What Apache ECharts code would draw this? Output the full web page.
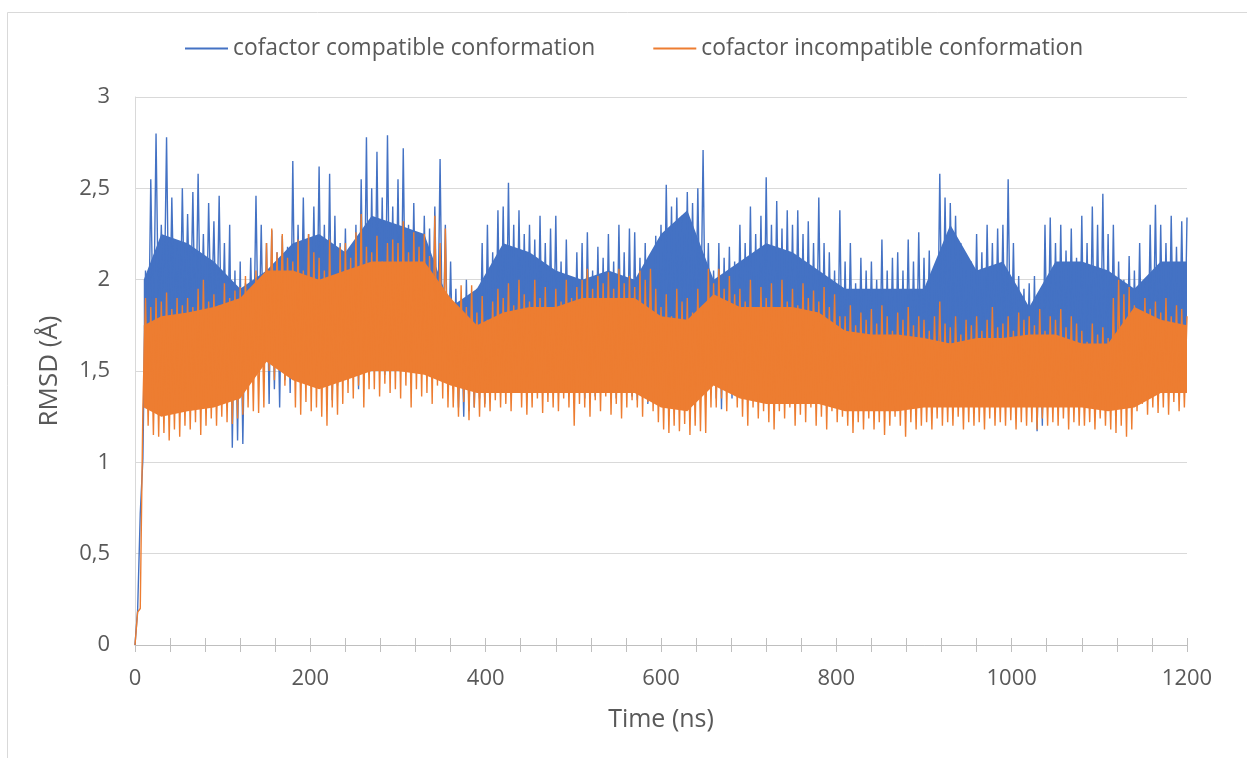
<!DOCTYPE html>
<html>
<head>
<meta charset="utf-8">
<script src="https://cdn.jsdelivr.net/npm/echarts@6/dist/echarts.min.js"></script>
<style>
html,body{margin:0;padding:0;background:#fff;}
#chart{width:1247px;height:758px;}
</style>
</head>
<body>
<div id="chart"></div>
<script>
// Sampling interval of the traces (ns)
const STEP_NS = 3;
const xTicks = [0, 200, 400, 600, 800, 1000, 1200];
const yTicks = [0, 0.5, 1, 1.5, 2, 2.5, 3];
const seriesNames = ['cofactor compatible conformation', 'cofactor incompatible conformation'];

// RMSD (Å), one value every 3 ns
const compatible = [
0, 0.19, 0.72, 1.02, 2.05, 1.45, 2.55, 1.62, 2.8, 1.7,
2.3, 1.75, 2.78, 1.6, 2.45, 1.72, 2.2, 1.58, 2.5, 1.66,
2.36, 1.7, 2.48, 1.6, 2.58, 1.65, 2.25, 1.56, 2.42, 1.72,
2.32, 1.6, 2.46, 1.55, 2.2, 1.4, 2.3, 1.08, 2.05, 1.12,
2.1, 1.1, 1.98, 1.45, 2.12, 1.5, 2.46, 1.55, 2.3, 1.48,
2.2, 1.32, 2.27, 1.4, 2.15, 1.3, 2.24, 1.45, 2.18, 1.38,
2.65, 1.5, 2.3, 1.55, 2.45, 1.6, 2.25, 1.52, 2.4, 1.58,
2.62, 1.5, 2.3, 1.45, 2.58, 1.34, 2.35, 1.42, 2.2, 1.48,
2.28, 1.45, 2.15, 1.5, 2.3, 1.4, 2.55, 1.52, 2.78, 1.48,
2.5, 1.5, 2.7, 1.55, 2.45, 1.48, 2.79, 1.6, 2.4, 1.52,
2.55, 1.5, 2.72, 1.55, 2.3, 1.48, 2.42, 1.58, 2.25, 1.5,
2.35, 1.52, 2.28, 1.48, 2.4, 1.55, 2.66, 1.5, 2.3, 1.47,
2.1, 1.4, 1.95, 1.3, 1.85, 1.25, 2.0, 1.28, 1.9, 1.3,
1.95, 1.35, 2.2, 1.32, 2.3, 1.4, 2.15, 1.45, 2.38, 1.42,
2.4, 1.45, 2.53, 1.5, 2.3, 1.42, 2.38, 1.48, 2.25, 1.5,
2.3, 1.45, 2.22, 1.4, 2.35, 1.48, 2.2, 1.42, 2.28, 1.45,
2.35, 1.4, 2.1, 1.38, 2.22, 1.45, 2.0, 1.35, 2.15, 1.4,
2.2, 1.35, 2.26, 1.42, 2.05, 1.36, 2.18, 1.4, 2.12, 1.38,
2.25, 1.4, 2.1, 1.35, 2.3, 1.42, 2.15, 1.38, 2.28, 1.36,
2.26, 1.34, 2.12, 1.4, 2.2, 1.32, 2.05, 1.38, 2.24, 1.35,
2.3, 1.45, 2.52, 1.55, 2.4, 1.5, 2.45, 1.58, 2.35, 1.52,
2.48, 1.58, 2.42, 1.55, 2.5, 1.6, 2.71, 1.52, 2.2, 1.45,
2.05, 1.35, 2.2, 1.29, 2.12, 1.4, 2.18, 1.35, 2.1, 1.38,
2.3, 1.4, 2.2, 1.45, 2.4, 1.38, 2.25, 1.42, 2.35, 1.4,
2.56, 1.42, 2.3, 1.4, 2.43, 1.45, 2.28, 1.38, 2.38, 1.42,
2.3, 1.4, 2.38, 1.45, 2.25, 1.38, 2.32, 1.42, 2.2, 1.4,
2.45, 1.38, 2.2, 1.35, 2.15, 1.4, 2.05, 1.32, 2.38, 1.36,
2.1, 1.35, 2.2, 1.38, 1.98, 1.33, 2.12, 1.36, 2.05, 1.35,
2.1, 1.38, 2.0, 1.35, 2.22, 1.32, 2.05, 1.36, 2.12, 1.34,
2.15, 1.35, 2.05, 1.38, 2.22, 1.33, 2.1, 1.36, 2.26, 1.38,
2.12, 1.4, 2.16, 1.38, 2.05, 1.42, 2.58, 1.5, 2.45, 1.55,
2.42, 1.6, 2.35, 1.55, 2.2, 1.5, 2.05, 1.45, 2.1, 1.42,
2.25, 1.45, 2.15, 1.42, 2.3, 1.48, 2.2, 1.44, 2.28, 1.46,
2.3, 1.42, 2.55, 1.45, 2.2, 1.4, 2.02, 1.38, 1.95, 1.4,
1.98, 1.3, 2.02, 1.17, 1.92, 1.2, 2.3, 1.4, 2.34, 1.42,
2.2, 1.4, 2.3, 1.38, 2.16, 1.42, 2.28, 1.4, 2.12, 1.38,
2.35, 1.38, 2.2, 1.35, 2.4, 1.4, 2.3, 1.36, 2.47, 1.38,
2.25, 1.35, 2.3, 1.38, 2.1, 1.36, 2.0, 1.35, 2.13, 1.38,
2.05, 1.4, 2.2, 1.38, 2.0, 1.42, 2.3, 1.45, 2.41, 1.4,
2.3, 1.45, 2.2, 1.42, 2.35, 1.48, 2.18, 1.45, 2.32, 1.47,
2.34
];

const incompatible = [
0, 0.18, 0.2, 1.3, 1.9, 1.2, 1.85, 1.15, 1.9, 1.14,
1.88, 1.16, 1.93, 1.12, 1.84, 1.18, 1.9, 1.14, 1.86, 1.2,
1.9, 1.18, 1.85, 1.22, 1.95, 1.15, 2.0, 1.2, 1.88, 1.24,
1.92, 1.2, 1.86, 1.25, 1.98, 1.22, 1.9, 1.21, 1.94, 1.24,
1.96, 1.26, 2.02, 1.3, 1.95, 1.28, 2.05, 1.27, 2.0, 1.3,
2.2, 1.5, 2.28, 1.45, 2.15, 1.55, 2.25, 1.42, 2.12, 1.5,
2.1, 1.3, 2.22, 1.26, 2.05, 1.33, 2.25, 1.28, 2.15, 1.3,
2.12, 1.25, 2.05, 1.2, 2.22, 1.3, 2.0, 1.26, 2.18, 1.32,
2.2, 1.38, 2.12, 1.35, 2.26, 1.42, 2.36, 1.3, 2.18, 1.4,
2.15, 1.4, 2.24, 1.36, 2.1, 1.43, 2.2, 1.38, 2.22, 1.4,
2.2, 1.35, 2.32, 1.42, 2.15, 1.3, 2.26, 1.4, 2.18, 1.36,
2.25, 1.38, 2.13, 1.32, 2.35, 1.42, 2.2, 1.35, 2.28, 1.3,
1.9, 1.3, 1.8, 1.25, 1.97, 1.33, 1.85, 1.23, 1.97, 1.3,
1.82, 1.25, 1.91, 1.3, 1.78, 1.28, 1.88, 1.34, 1.95, 1.3,
1.9, 1.32, 1.98, 1.28, 1.86, 1.38, 2.0, 1.3, 1.92, 1.26,
1.88, 1.3, 2.0, 1.35, 1.9, 1.27, 1.96, 1.33, 1.85, 1.3,
1.95, 1.28, 1.88, 1.35, 2.0, 1.3, 1.9, 1.2, 1.96, 1.32,
2.0, 1.3, 2.06, 1.25, 1.95, 1.34, 2.02, 1.28, 1.98, 1.36,
2.04, 1.26, 1.95, 1.32, 2.06, 1.24, 1.98, 1.3, 2.02, 1.34,
1.96, 1.3, 2.05, 1.25, 2.0, 1.33, 2.06, 1.28, 1.95, 1.22,
1.85, 1.18, 1.92, 1.16, 1.8, 1.2, 1.95, 1.17, 1.88, 1.21,
1.9, 1.15, 1.82, 1.2, 1.95, 1.17, 1.86, 1.16, 2.06, 1.3,
1.98, 1.3, 2.06, 1.35, 1.95, 1.28, 2.02, 1.39, 1.92, 1.3,
1.95, 1.25, 1.88, 1.2, 2.0, 1.3, 1.85, 1.24, 1.96, 1.28,
1.9, 1.22, 1.98, 1.18, 1.85, 1.28, 2.0, 1.24, 1.88, 1.3,
1.95, 1.2, 1.86, 1.26, 1.98, 1.22, 1.9, 1.3, 1.94, 1.2,
1.88, 1.25, 1.96, 1.18, 1.85, 1.28, 1.92, 1.22, 1.8, 1.25,
1.8, 1.2, 1.86, 1.16, 1.75, 1.22, 1.82, 1.18, 1.78, 1.24,
1.84, 1.18, 1.76, 1.22, 1.86, 1.15, 1.8, 1.2, 1.72, 1.25,
1.82, 1.2, 1.78, 1.14, 1.85, 1.22, 1.75, 1.18, 1.8, 1.2,
1.78, 1.22, 1.72, 1.18, 1.8, 1.24, 1.88, 1.2, 1.76, 1.22,
1.74, 1.2, 1.8, 1.25, 1.7, 1.18, 1.78, 1.22, 1.75, 1.2,
1.8, 1.22, 1.72, 1.18, 1.78, 1.24, 1.85, 1.2, 1.74, 1.22,
1.76, 1.2, 1.8, 1.23, 1.72, 1.18, 1.82, 1.22, 1.78, 1.2,
1.8, 1.22, 1.75, 1.18, 1.84, 1.24, 1.72, 1.2, 1.8, 1.22,
1.78, 1.2, 1.84, 1.24, 1.74, 1.18, 1.8, 1.22, 1.76, 1.2,
1.72, 1.2, 1.66, 1.22, 1.76, 1.18, 1.7, 1.24, 1.74, 1.2,
1.68, 1.18, 1.9, 1.16, 2.0, 1.2, 1.92, 1.14, 1.96, 1.18,
1.86, 1.28, 1.8, 1.32, 1.9, 1.26, 1.84, 1.3, 1.88, 1.27,
1.82, 1.3, 1.9, 1.26, 1.8, 1.33, 1.86, 1.28, 1.84, 1.3,
1.8
];

// Dense core of each trace (where the noise is solid), read every 30 ns
const coreTimes = [10, 30, 60, 90, 120, 150, 180, 210, 240, 270, 300, 330, 360, 390, 420, 450, 480, 510, 540, 570, 600,
  630, 660, 690, 720, 750, 780, 810, 840, 870, 900, 930, 960, 990, 1020, 1050, 1080, 1110, 1140, 1170, 1200];
const compatibleCoreLow = [1.5, 1.6, 1.6, 1.55, 1.5, 1.6, 1.6, 1.55, 1.55, 1.6, 1.6, 1.6, 1.5, 1.45, 1.5, 1.5, 1.5, 1.5, 1.5, 1.5, 1.55,
  1.6, 1.55, 1.5, 1.5, 1.5, 1.5, 1.45, 1.45, 1.45, 1.45, 1.5, 1.5, 1.5, 1.45, 1.5, 1.5, 1.5, 1.45, 1.5, 1.5];
const compatibleCoreHigh = [2.0, 2.25, 2.2, 2.1, 1.95, 2.05, 2.2, 2.25, 2.15, 2.35, 2.3, 2.25, 1.85, 1.95, 2.2, 2.15, 2.05, 2.0, 2.05, 2.0, 2.25,
  2.38, 2.0, 2.1, 2.2, 2.15, 2.05, 1.95, 1.95, 1.95, 1.95, 2.3, 2.05, 2.1, 1.85, 2.1, 2.1, 2.05, 1.95, 2.1, 2.1];
const incompatibleCoreLow = [1.3, 1.25, 1.28, 1.3, 1.35, 1.55, 1.45, 1.4, 1.45, 1.5, 1.5, 1.48, 1.42, 1.38, 1.38, 1.38, 1.38, 1.38, 1.38, 1.38, 1.3,
  1.28, 1.42, 1.35, 1.32, 1.32, 1.32, 1.28, 1.28, 1.28, 1.3, 1.3, 1.3, 1.3, 1.3, 1.3, 1.3, 1.28, 1.3, 1.38, 1.38];
const incompatibleCoreHigh = [1.75, 1.8, 1.82, 1.85, 1.9, 2.05, 2.05, 2.0, 2.05, 2.1, 2.1, 2.1, 1.9, 1.75, 1.82, 1.85, 1.85, 1.9, 1.9, 1.9, 1.8,
  1.78, 1.92, 1.85, 1.85, 1.85, 1.82, 1.72, 1.7, 1.7, 1.68, 1.65, 1.68, 1.68, 1.7, 1.7, 1.65, 1.65, 1.85, 1.78, 1.75];

const toPairs = arr => arr.map((v, i) => [i * STEP_NS, v]);

const FONT = '"Open Sans", "Noto Sans", sans-serif';
const TXT = '#595959';
const BLUE = '#4472C4';
const ORANGE = '#ED7D31';

// Core band drawn through the axes' own coordinate mapping
const coreBand = (id, lo, hi, color, z) => ({
  id: id,
  type: 'custom',
  silent: true,
  z: z,
  coordinateSystem: 'cartesian2d',
  data: [[coreTimes[0], lo[0]]],
  encode: {x: 0, y: 1},
  renderItem: function (params, api) {
    const pts = [];
    for (let i = 0; i < coreTimes.length; i++) pts.push(api.coord([coreTimes[i], hi[i]]));
    for (let i = coreTimes.length - 1; i >= 0; i--) pts.push(api.coord([coreTimes[i], lo[i]]));
    return {type: 'polygon', shape: {points: pts}, style: {fill: color, stroke: null}};
  }
});

const chart = echarts.init(document.getElementById('chart'), null, {renderer: 'canvas'});
const xCommon = {
  type: 'value',
  min: xTicks[0],
  max: xTicks[xTicks.length - 1],
  interval: xTicks[1] - xTicks[0],
  splitLine: {show: false}
};
chart.setOption({
  animation: false,
  backgroundColor: '#fff',
  textStyle: {fontFamily: FONT},
  graphic: [{
    type: 'rect',
    shape: {x: 7.5, y: 12.5, width: 1300, height: 800},
    style: {fill: 'none', stroke: '#d9d9d9', lineWidth: 1},
    silent: true
  }],
  legend: {
    top: 37,
    left: 185,
    padding: 0,
    itemWidth: 43,
    itemHeight: 2,
    itemGap: 58,
    icon: 'rect',
    textStyle: {fontFamily: FONT, fontSize: 22.8, color: TXT},
    data: seriesNames
  },
  grid: {left: 135, right: 60, top: 97, bottom: 113, containLabel: false},
  xAxis: [
    Object.assign({}, xCommon, {
      name: 'Time (ns)',
      nameLocation: 'middle',
      nameGap: 62,
      nameTextStyle: {fontFamily: FONT, fontSize: 25, color: TXT},
      axisLine: {show: true, lineStyle: {color: '#bfbfbf', width: 1}},
      axisTick: {show: true, length: 7, lineStyle: {color: '#bfbfbf'}},
      minorTick: {show: true, splitNumber: 5, length: 7, lineStyle: {color: '#bfbfbf'}},
      axisLabel: {fontFamily: FONT, fontSize: 22, color: TXT, margin: 23, formatter: v => String(v)}
    }),
    Object.assign({}, xCommon, {
      position: 'bottom',
      axisLine: {show: false},
      axisTick: {show: true, inside: true, length: 7, lineStyle: {color: '#bfbfbf'}},
      minorTick: {show: true, splitNumber: 5, length: 7, lineStyle: {color: '#bfbfbf'}},
      axisLabel: {show: false}
    })
  ],
  yAxis: {
    type: 'value',
    min: yTicks[0],
    max: yTicks[yTicks.length - 1],
    interval: yTicks[1] - yTicks[0],
    name: 'RMSD (Å)',
    nameLocation: 'middle',
    nameGap: 72,
    nameTextStyle: {fontFamily: FONT, fontSize: 26, color: TXT},
    axisLine: {show: true, lineStyle: {color: '#d9d9d9'}},
    axisTick: {show: false},
    splitLine: {show: true, lineStyle: {color: '#d9d9d9', width: 1}},
    axisLabel: {
      fontFamily: FONT, fontSize: 22, color: TXT, margin: 25,
      formatter: v => String(v).replace('.', ',')
    }
  },
  series: [
    coreBand('blueCore', compatibleCoreLow, compatibleCoreHigh, BLUE, 1),
    {
      name: seriesNames[0],
      type: 'line',
      data: toPairs(compatible),
      showSymbol: false,
      symbol: 'none',
      color: BLUE,
      lineStyle: {color: BLUE, width: 1.4},
      z: 2
    },
    coreBand('orangeCore', incompatibleCoreLow, incompatibleCoreHigh, ORANGE, 3),
    {
      name: seriesNames[1],
      type: 'line',
      data: toPairs(incompatible),
      showSymbol: false,
      symbol: 'none',
      color: ORANGE,
      lineStyle: {color: ORANGE, width: 1.4},
      z: 4
    }
  ]
});
</script>
</body>
</html>
